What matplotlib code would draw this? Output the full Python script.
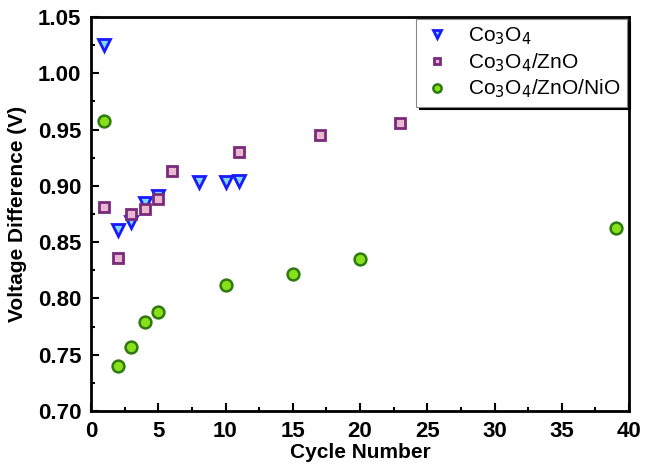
import matplotlib
matplotlib.use("Agg")
import matplotlib.pyplot as plt
from matplotlib.ticker import MultipleLocator

plt.rcParams['font.family'] = ['Liberation Sans', 'DejaVu Sans']

co_x = [1, 2, 3, 4, 5, 8, 10, 11]
co_y = [1.025, 0.861, 0.868, 0.885, 0.891, 0.903, 0.903, 0.904]
zn_x = [1, 2, 3, 4, 5, 6, 11, 17, 23]
zn_y = [0.881, 0.836, 0.875, 0.879, 0.888, 0.913, 0.930, 0.945, 0.956]
ni_x = [1, 2, 3, 4, 5, 10, 15, 20, 39]
ni_y = [0.958, 0.740, 0.757, 0.779, 0.788, 0.812, 0.822, 0.835, 0.863]

xticks = [0, 5, 10, 15, 20, 25, 30, 35, 40]
yticks = [0.70, 0.75, 0.80, 0.85, 0.90, 0.95, 1.00, 1.05]

fig = plt.figure(figsize=(6.45, 4.66), dpi=100)
ax = fig.add_axes([91/645, 1-411/466, (629-91)/645, (411-17)/466])

ax.plot(co_x, co_y, linestyle='none', marker='v', markersize=8.5,
        markerfacecolor='#7fd8ff', markeredgecolor='#1a1aff', markeredgewidth=2,
        label=r'Co$_3$O$_4$')
ax.plot(zn_x, zn_y, linestyle='none', marker='s', markersize=7,
        markerfacecolor='#e8b8d0', markeredgecolor='#7a2a7a', markeredgewidth=2,
        label=r'Co$_3$O$_4$/ZnO')
ax.plot(ni_x, ni_y, linestyle='none', marker='o', markersize=8.5,
        markerfacecolor='#88e01a', markeredgecolor='#2e7a10', markeredgewidth=1.8,
        label=r'Co$_3$O$_4$/ZnO/NiO')

ax.set_xlim(0, 40)
ax.set_ylim(0.70, 1.05)
ax.set_xticks(xticks)
ax.set_yticks(yticks)
ax.set_xticklabels([str(v) for v in xticks])
ax.set_yticklabels([f'{v:.2f}' for v in yticks])
ax.xaxis.set_minor_locator(MultipleLocator(2.5))
ax.yaxis.set_minor_locator(MultipleLocator(0.025))
ax.tick_params(which='major', direction='in', length=6, width=1.5, labelsize=16)
ax.tick_params(axis='y', which='major', pad=7)
ax.tick_params(axis='x', which='major', pad=7)
ax.tick_params(which='minor', direction='in', length=3, width=1.5)
for lab in ax.get_xticklabels() + ax.get_yticklabels():
    lab.set_fontweight('bold')
for s in ax.spines.values():
    s.set_linewidth(2)

ax.set_xlabel('Cycle Number', fontsize=15, fontweight='bold', labelpad=1)
ax.set_ylabel('Voltage Difference (V)', fontsize=15, fontweight='bold', labelpad=8)

leg = ax.legend(loc='upper right', bbox_to_anchor=(1.0, 1.0), fontsize=15,
                frameon=True, fancybox=False, shadow={'color': 'black', 'alpha': 1.0},
                edgecolor='#888888', handletextpad=0.8, borderpad=0.3,
                labelspacing=0.2, handlelength=1.4, borderaxespad=0.1,
                markerscale=0.7)
leg.get_frame().set_linewidth(0.8)

fig.savefig('out.png', dpi=100)
